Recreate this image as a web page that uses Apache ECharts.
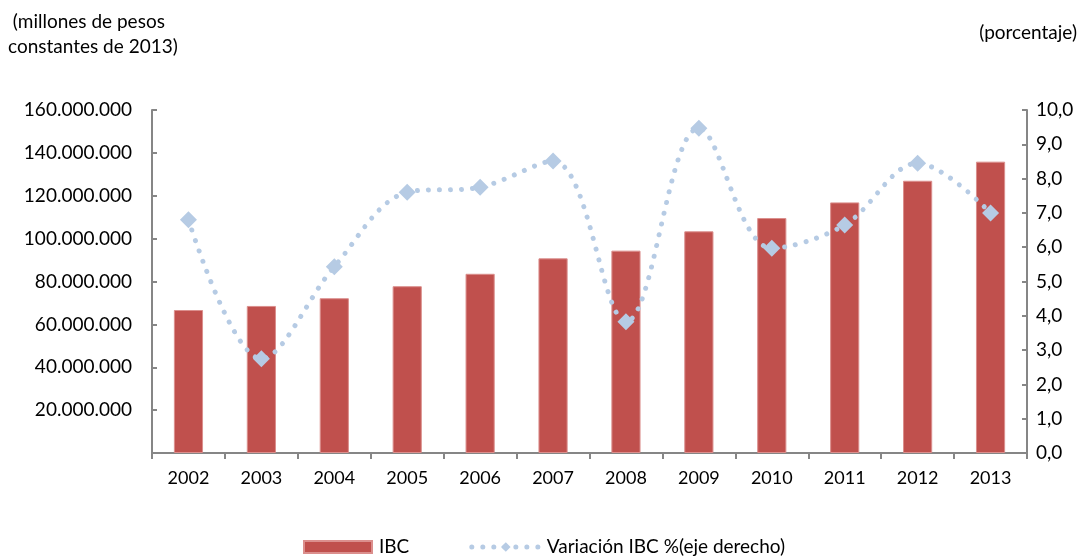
<!DOCTYPE html>
<html><head><meta charset="utf-8">
<script src="https://cdn.jsdelivr.net/npm/echarts@6/dist/echarts.min.js"></script>
<style>html,body{margin:0;padding:0;background:#fff}#c{width:1086px;height:556px}</style>
</head><body><div id="c"></div>
<script>
const years = ['2002','2003','2004','2005','2006','2007','2008','2009','2010','2011','2012','2013'];
const ibc = [66700000, 68600000, 72200000, 77800000, 83600000, 90800000, 94400000, 103400000, 109600000, 116900000, 127000000, 135900000];
const variacion = [6.8, 2.75, 5.43, 7.6, 7.75, 8.51, 3.83, 9.47, 5.97, 6.65, 8.45, 7.0];
const leftTicks = {min: 0, max: 160000000, interval: 20000000};
const rightTicks = {min: 0, max: 10, interval: 1};
const FONT = 'Lato';
const LINE_COLOR = '#B6CBE4';
const chart = echarts.init(document.getElementById('c'));
const axisLineStyle = {color: '#868686', width: 2};
const dotted = {color: LINE_COLOR, width: 5, type: [0.01, 11], cap: 'round'};
chart.setOption({
  animation: false,
  textStyle: {fontFamily: FONT},
  grid: {left: 152, right: 59, top: 110, bottom: 103},
  legend: {
    left: 303, top: 536, padding: 0, itemWidth: 68, itemHeight: 12, itemGap: 60,
    textStyle: {fontFamily: FONT, fontSize: 19, color: '#000', lineHeight: 22, padding: [0, 0, 0, 2]},
    data: [
      {name: 'IBC', icon: 'rect'},
      {name: 'Variación IBC %(eje derecho)', lineStyle: dotted, itemStyle: {color: LINE_COLOR}}
    ]
  },
  graphic: [
    {type: 'text', left: 8, top: 9, style: {text: ' (millones de pesos\nconstantes de 2013)', font: '19px ' + FONT, fill: '#000', lineHeight: 25}},
    {type: 'text', right: 9, top: 23, style: {text: '(porcentaje)', font: '19px ' + FONT, fill: '#000'}}
  ],
  xAxis: {
    type: 'category', data: years,
    axisLine: {lineStyle: axisLineStyle},
    axisTick: {show: true, length: 6, inside: false, lineStyle: {color: '#868686', width: 2}},
    axisLabel: {fontFamily: FONT, fontSize: 18, color: '#000', margin: 16}
  },
  yAxis: [
    {
      type: 'value', min: leftTicks.min, max: leftTicks.max, interval: leftTicks.interval,
      axisLine: {show: true, lineStyle: axisLineStyle},
      axisTick: {show: true, inside: true, length: 5, lineStyle: {color: '#868686', width: 2}},
      splitLine: {show: false},
      axisLabel: {fontFamily: FONT, fontSize: 19, color: '#000', margin: 20,
        formatter: v => v === 0 ? '' : String(v).replace(/\B(?=(\d{3})+(?!\d))/g, '.')}
    },
    {
      type: 'value', min: rightTicks.min, max: rightTicks.max, interval: rightTicks.interval,
      position: 'right',
      axisLine: {show: true, lineStyle: axisLineStyle},
      axisTick: {show: true, inside: true, length: 5, lineStyle: {color: '#868686', width: 2}},
      splitLine: {show: false},
      axisLabel: {fontFamily: FONT, fontSize: 19, color: '#000', margin: 9,
        formatter: v => v.toFixed(1).replace('.', ',')}
    }
  ],
  series: [
    {
      name: 'IBC', type: 'bar', data: ibc, barWidth: '40%', yAxisIndex: 0,
      itemStyle: {color: '#C0504D', borderColor: '#DB8F8D', borderWidth: 1}
    },
    {
      name: 'Variación IBC %(eje derecho)', type: 'line', data: variacion, yAxisIndex: 1,
      smooth: 0.35, symbol: 'diamond', symbolSize: 17,
      itemStyle: {color: LINE_COLOR},
      lineStyle: dotted
    }
  ]
});
</script></body></html>
